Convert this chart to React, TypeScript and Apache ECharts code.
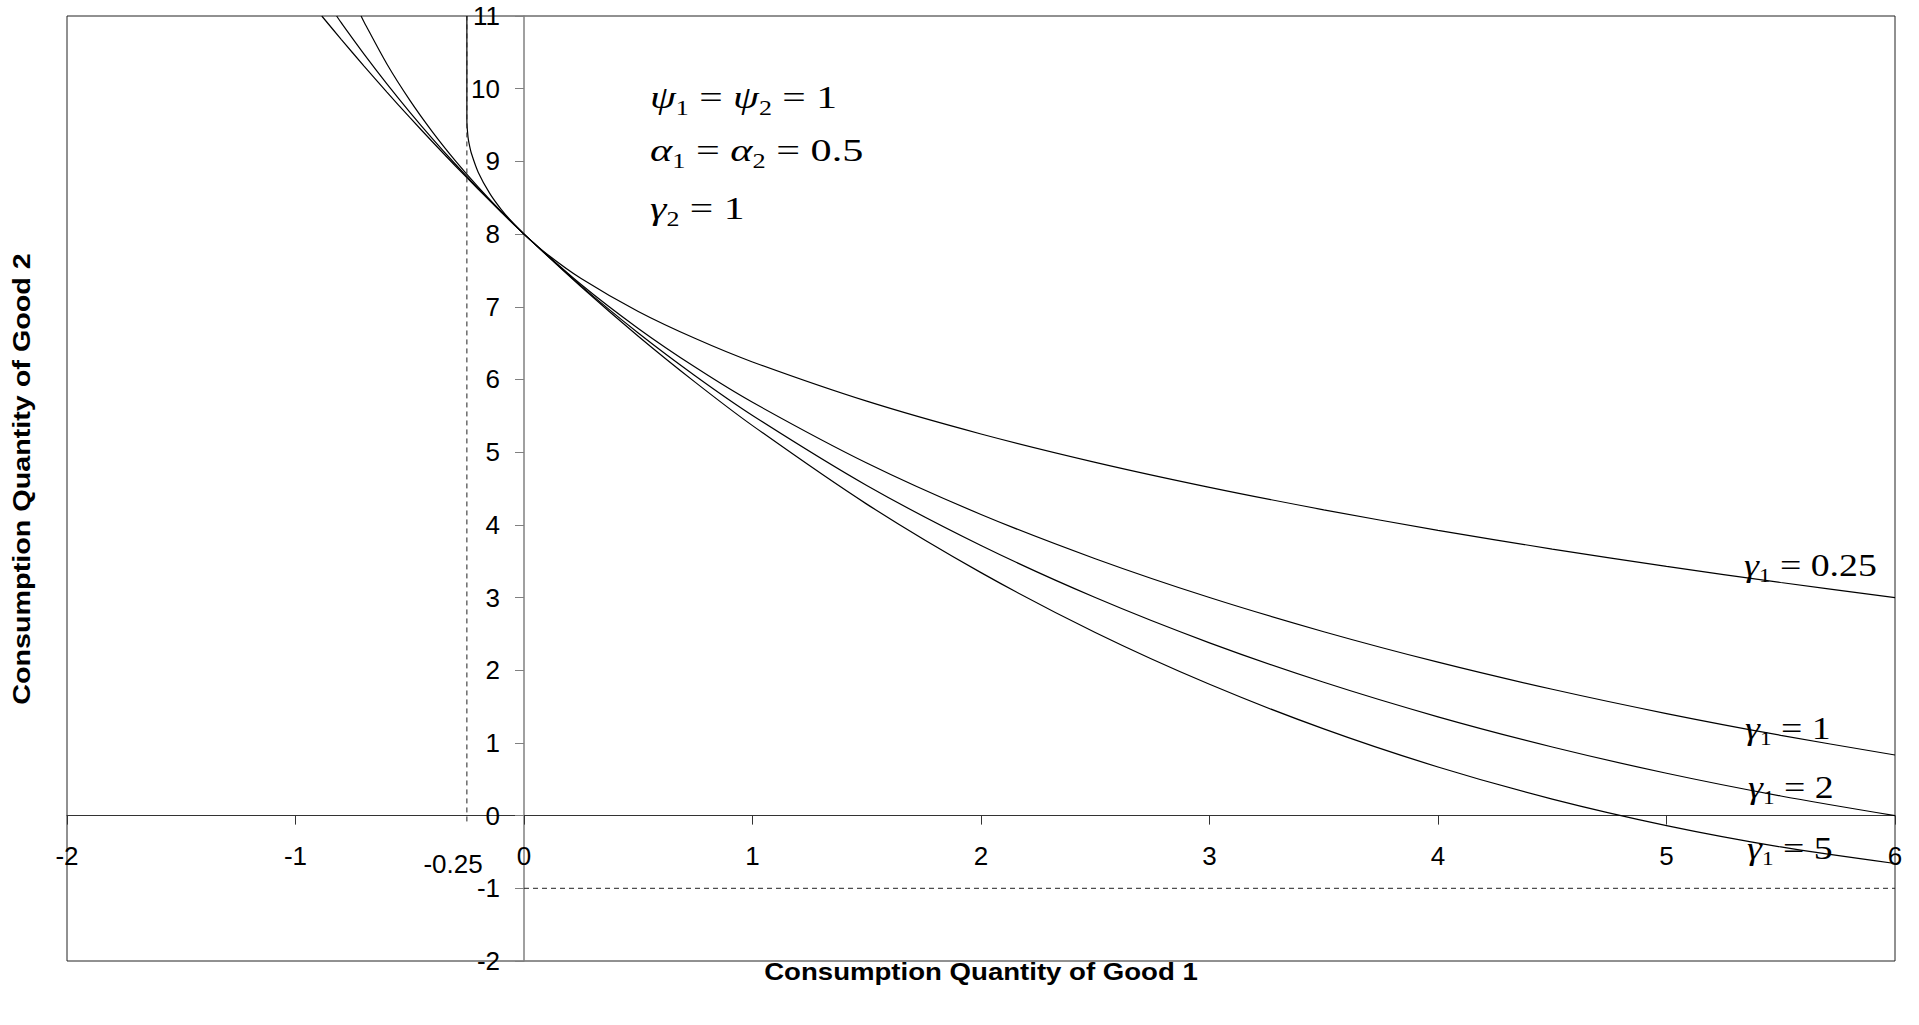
import React, { useEffect, useRef } from "react";
import * as echarts from "echarts";

// ---------- data ----------
const X_MIN = -2;
const X_MAX = 6;
const Y_MIN = -2;
const Y_MAX = 11;

// gamma1 = 0.25
const g025X = [-0.25, -0.25, -0.245, -0.24, -0.23, -0.2, -0.15, -0.1, -0.05, 0, 0.1, 0.25, 0.5, 0.75, 1, 1.5, 2, 2.5, 3, 3.5, 4, 4.5, 5, 5.5, 6];
const g025Y = [11, 9.5625, 9.334, 9.24, 9.108, 8.848, 8.56, 8.341, 8.159, 8, 7.727, 7.389, 6.935, 6.5625, 6.241, 5.701, 5.25, 4.86, 4.516, 4.207, 3.925, 3.667, 3.428, 3.207, 3];

// gamma1 = 1
const g1X = [-0.713, -0.7, -0.6, -0.5, -0.4, -0.3, -0.2, -0.1, 0, 0.25, 0.5, 0.75, 1, 1.5, 2, 2.5, 3, 3.5, 4, 4.5, 5, 5.5, 6];
const g1Y = [11, 10.918, 10.34, 9.843, 9.403, 9.007, 8.645, 8.311, 8, 7.306, 6.702, 6.167, 5.686, 4.851, 4.143, 3.534, 3, 2.53, 2.111, 1.738, 1.404, 1.104, 0.834];

// gamma1 = 2
const g2X = [-0.82, -0.8, -0.7, -0.6, -0.5, -0.4, -0.3, -0.2, -0.1, 0, 0.25, 0.5, 0.75, 1, 1.5, 2, 2.5, 3, 3.5, 4, 4.5, 5, 5.5, 6];
const g2Y = [11, 10.908, 10.476, 10.067, 9.679, 9.311, 8.961, 8.626, 8.306, 8, 7.287, 6.639, 6.048, 5.505, 4.542, 3.716, 3, 2.377, 1.834, 1.359, 0.944, 0.583, 0.27, 0];

// gamma1 = 5
const g5X = [-0.885, -0.8, -0.7, -0.6, -0.5, -0.4, -0.3, -0.2, -0.1, 0, 0.25, 0.5, 0.75, 1, 1.5, 2, 2.5, 3, 3.5, 4, 4.5, 5, 5.5, 6];
const g5Y = [11, 10.679, 10.311, 9.953, 9.605, 9.267, 8.937, 8.616, 8.304, 8, 7.275, 6.595, 5.96, 5.365, 4.285, 3.343, 2.52, 1.807, 1.193, 0.669, 0.227, -0.137, -0.431, -0.659];

// dashed guide lines
const vGuideX = [-0.25, -0.25];
const vGuideY = [-0.08, 11];
const hGuideX = [0, 6];
const hGuideY = [-1, -1];

const xTitle = "Consumption Quantity of Good 1";
const yTitle = "Consumption Quantity of Good 2";
const extraXLabel = "-0.25";

const pairs = (xs: number[], ys: number[]) => xs.map((x, i) => [x, ys[i]]);

const SERIF = "'Liberation Serif', 'Times New Roman', serif";
const SANS = "'Liberation Sans', Arial, sans-serif";

// layout
const W = 1919;
const H = 1025;
const G_LEFT = 67;
const G_RIGHT = 24;
const G_TOP = 16;
const G_BOTTOM = 64;
const gridW = W - G_LEFT - G_RIGHT;
const gridH = H - G_TOP - G_BOTTOM;
// shift each axis from the grid edge onto the other axis' zero
const yAxisOffset = -((0 - X_MIN) / (X_MAX - X_MIN)) * gridW;
const xAxisOffset = -((0 - Y_MIN) / (Y_MAX - Y_MIN)) * gridH;

function richEq(size: number, sub: number) {
  return {
    g: { fontFamily: SERIF, fontStyle: "italic", fontSize: size, lineHeight: size + 10, fill: "#000" },
    n: { fontFamily: SERIF, fontSize: size, lineHeight: size + 10, fill: "#000" },
    s: { fontFamily: SERIF, fontSize: sub, lineHeight: 14, verticalAlign: "bottom", fill: "#000" },
  };
}

function eqText(x: number, y: number, text: string, sx: number, size: number, sub: number) {
  return {
    type: "text",
    x,
    y,
    scaleX: sx,
    style: { text, rich: richEq(size, sub), align: "left", verticalAlign: "middle", fill: "#000" },
  };
}

export default function App() {
  const ref = useRef<HTMLDivElement>(null);
  useEffect(() => {
    const chart = echarts.init(ref.current!, null, { renderer: "svg" });
    const curveStyle = { color: "#000", width: 1.2 };
    const option: any = {
      animation: false,
      backgroundColor: "#fff",
      grid: {
        left: G_LEFT,
        right: G_RIGHT,
        top: G_TOP,
        bottom: G_BOTTOM,
        show: true,
        borderColor: "#222",
        borderWidth: 1,
        backgroundColor: "transparent",
      },
      xAxis: {
        type: "value",
        position: "bottom",
        offset: xAxisOffset,
        min: X_MIN,
        max: X_MAX,
        interval: 1,
        axisLine: { onZero: false, lineStyle: { color: "#333", width: 1 } },
        axisTick: { show: true, length: 9, lineStyle: { color: "#333" } },
        axisLabel: { margin: 27, fontSize: 26, color: "#000", fontFamily: SANS },
        splitLine: { show: false },
      },
      yAxis: {
        type: "value",
        position: "left",
        offset: yAxisOffset,
        min: Y_MIN,
        max: Y_MAX,
        interval: 1,
        axisLine: { onZero: false, lineStyle: { color: "#808080", width: 1.5 } },
        axisTick: { show: true, length: 9, lineStyle: { color: "#808080" } },
        axisLabel: { margin: 24, fontSize: 26, color: "#000", fontFamily: SANS },
        splitLine: { show: false },
      },
      series: [
        { name: "g025", type: "line", data: pairs(g025X, g025Y), showSymbol: false, smooth: 0.3, lineStyle: curveStyle },
        { name: "g1", type: "line", data: pairs(g1X, g1Y), showSymbol: false, smooth: 0.3, lineStyle: curveStyle },
        { name: "g2", type: "line", data: pairs(g2X, g2Y), showSymbol: false, smooth: 0.3, lineStyle: curveStyle },
        { name: "g5", type: "line", data: pairs(g5X, g5Y), showSymbol: false, smooth: 0.3, lineStyle: curveStyle },
        { name: "vguide", type: "line", data: pairs(vGuideX, vGuideY), showSymbol: false, lineStyle: { color: "#222", width: 1, type: [5, 4] } },
        { name: "hguide", type: "line", data: pairs(hGuideX, hGuideY), showSymbol: false, lineStyle: { color: "#222", width: 1, type: [5, 4] } },
      ],
      graphic: [
        eqText(650, 97, "{g|ψ}{s|1}{n| = }{g|ψ}{s|2}{n| = 1}", 1.3, 32, 20),
        eqText(650, 150, "{g|α}{s|1}{n| = }{g|α}{s|2}{n| = 0.5}", 1.32, 32, 20),
        eqText(650, 208, "{g|γ}{s|2}{n| = 1}", 1.3, 32, 20),
        eqText(1744, 565, "{g|γ}{s|1}{n| = 0.25}", 1.22, 31, 19),
        eqText(1745, 728, "{g|γ}{s|1}{n| = 1}", 1.22, 31, 19),
        eqText(1748, 787, "{g|γ}{s|1}{n| = 2}", 1.22, 31, 19),
        eqText(1747, 848, "{g|γ}{s|1}{n| = 5}", 1.22, 31, 19),
        {
          type: "text",
          x: 453,
          y: 864,
          style: { text: extraXLabel, font: `26px ${SANS}`, fill: "#000", align: "center", verticalAlign: "middle" },
        },
        {
          type: "text",
          x: 981,
          y: 972,
          scaleX: 1.2,
          style: { text: xTitle, font: `bold 23px ${SANS}`, fill: "#000", align: "center", verticalAlign: "middle" },
        },
        {
          type: "text",
          x: 22,
          y: 479,
          rotation: Math.PI / 2,
          scaleX: 1.25,
          style: { text: yTitle, font: `bold 23px ${SANS}`, fill: "#000", align: "center", verticalAlign: "middle" },
        },
      ],
    };
    chart.setOption(option);
    return () => chart.dispose();
  }, []);
  return (
    <div
      ref={ref}
      style={{ position: "absolute", left: 0, top: 0, width: W, height: H, background: "#fff" }}
    />
  );
}
